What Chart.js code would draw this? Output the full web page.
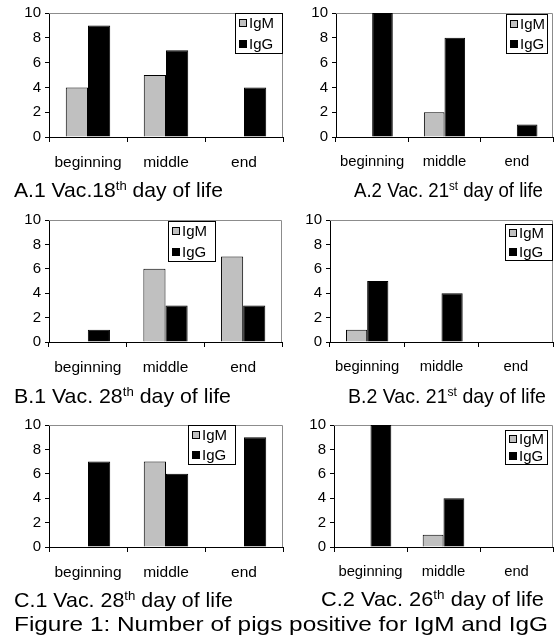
<!DOCTYPE html>
<html>
<head>
<meta charset="utf-8">
<script src="https://cdn.jsdelivr.net/npm/chart.js@4.4.1/dist/chart.umd.min.js"></script>
<style>
  html, body { margin: 0; padding: 0; background: #fff; overflow: hidden; }
  #page { position: relative; width: 554px; height: 639px; font-family: 'Liberation Sans', Arial, sans-serif; color: #000; }
  #page canvas { position: absolute; }
  .sub { position: absolute; font-size: 21px; line-height: 21px; white-space: nowrap; transform-origin: 0 0; }
  .sub sup { font-size: 13px; line-height: 0; vertical-align: 7px; }
</style>
</head>
<body>
<div id="page">
  <canvas id="a1"></canvas>
  <canvas id="a2"></canvas>
  <canvas id="b1"></canvas>
  <canvas id="b2"></canvas>
  <canvas id="c1"></canvas>
  <canvas id="c2"></canvas>
  <div class="sub" data-w="209" style="left:14px;top:179px">A.1 Vac.18<sup>th</sup> day of life</div>
  <div class="sub" data-w="189" style="left:354px;top:179px">A.2 Vac. 21<sup>st</sup> day of life</div>
  <div class="sub" data-w="217" style="left:14px;top:385px">B.1 Vac. 28<sup>th</sup> day of life</div>
  <div class="sub" data-w="198" style="left:348px;top:385px">B.2 Vac. 21<sup>st</sup> day of life</div>
  <div class="sub" data-w="219" style="left:14px;top:589px">C.1 Vac. 28<sup>th</sup> day of life</div>
  <div class="sub" data-w="223" style="left:321px;top:588px">C.2 Vac. 26<sup>th</sup> day of life</div>
  <div class="sub" data-w="534" style="left:14px;top:613px">Figure 1: Number of pigs positive for IgM and IgG</div>
</div>
<script>
// Sampling period within each group and the two antibody classes
const categories = ['beginning', 'middle', 'end'];
const seriesNames = ['IgM', 'IgG'];

// Number of positive pigs per group (IgM / IgG)
const a1IgM = [4, 5, 0];
const a1IgG = [9, 7, 4];
const a2IgM = [0, 2, 0];
const a2IgG = [10, 8, 1];
const b1IgM = [0, 6, 7];
const b1IgG = [1, 3, 3];
const b2IgM = [1, 0, 0];
const b2IgG = [5, 4, 0];
const c1IgM = [0, 7, 0];
const c1IgG = [7, 6, 9];
const c2IgM = [0, 1, 0];
const c2IgG = [10, 4, 0];

// Value axis
const yMin = 0;
const yMax = 10;
const yStep = 2;

const FONT = "'Liberation Sans', Arial, sans-serif";
const IGM_FILL = '#c0c0c0';
const IGG_FILL = '#000000';

// Panel captions are set to fixed widths by stretching them horizontally
document.querySelectorAll('.sub').forEach(el => {
  const natural = el.getBoundingClientRect().width;
  el.style.transform = 'scaleX(' + (Number(el.dataset.w) / natural) + ')';
});

// Thin grey frame along the top and right of the plot area
const plotFrame = {
  id: 'plotFrame',
  beforeDatasetsDraw(chart) {
    const { ctx, chartArea: a } = chart;
    const t = Math.round(a.top) + 0.5;
    const r = Math.round(a.right) - 0.5;
    ctx.save();
    ctx.strokeStyle = '#8c8c8c';
    ctx.lineWidth = 1;
    ctx.beginPath();
    ctx.moveTo(a.left, t);
    ctx.lineTo(r, t);
    ctx.lineTo(r, a.bottom);
    ctx.stroke();
    ctx.restore();
  }
};

// Boxed legend placed inside the plot area
const boxLegend = {
  id: 'boxLegend',
  afterDraw(chart, args, opts) {
    const { ctx } = chart;
    const { x, y, w, h } = opts;
    ctx.save();
    ctx.fillStyle = '#fff';
    ctx.fillRect(x, y, w, h);
    ctx.strokeStyle = '#000';
    ctx.lineWidth = 1;
    ctx.strokeRect(x + 0.5, y + 0.5, w - 1, h - 1);
    ctx.font = '15px ' + FONT;
    ctx.textBaseline = 'middle';
    ctx.textAlign = 'left';
    chart.data.datasets.forEach((ds, i) => {
      const cy = Math.round(y + h * (2 * i + 1) / 4);
      ctx.fillStyle = ds.backgroundColor;
      ctx.fillRect(x + 4, cy - 4, 8, 8);
      ctx.strokeStyle = '#000';
      ctx.strokeRect(x + 4.5, cy - 3.5, 7, 7);
      ctx.fillStyle = '#000';
      ctx.fillText(ds.label, x + 14, cy + 1);
    });
    ctx.restore();
  }
};

function buildChart(id, plot, igm, igg, legendRect, labelSize) {
  const padTop = 15, padRight = 6, yAxisW = 49, xAxisH = 45;
  const cv = document.getElementById(id);
  const w = yAxisW + (plot.r - plot.l) + padRight;
  const h = padTop + (plot.b - plot.t) + xAxisH;
  const left = plot.l - yAxisW, top = plot.t - padTop;
  cv.width = w; cv.height = h;
  cv.style.left = left + 'px'; cv.style.top = top + 'px';
  cv.style.width = w + 'px'; cv.style.height = h + 'px';

  return new Chart(cv, {
    type: 'bar',
    data: {
      labels: categories,
      datasets: [
        { label: seriesNames[0], data: igm, backgroundColor: IGM_FILL, borderColor: '#000', borderWidth: 1 },
        { label: seriesNames[1], data: igg, backgroundColor: IGG_FILL, borderColor: '#000', borderWidth: 1 }
      ]
    },
    options: {
      responsive: false,
      animation: false,
      devicePixelRatio: 1,
      layout: { padding: { top: padTop, right: padRight, left: 0, bottom: 0 } },
      datasets: { bar: { categoryPercentage: 0.57, barPercentage: 1 } },
      plugins: {
        legend: { display: false },
        tooltip: { enabled: false },
        boxLegend: {
          x: legendRect.x - left, y: legendRect.y - top,
          w: legendRect.w, h: legendRect.h
        }
      },
      scales: {
        x: {
          grid: { offset: true, drawOnChartArea: false, drawTicks: true, tickLength: 5, color: '#000' },
          border: { color: '#000' },
          ticks: { color: '#000', font: { size: labelSize, family: FONT }, padding: 11, maxRotation: 0, autoSkip: false },
          afterFit(s) { s.height = xAxisH; }
        },
        y: {
          min: yMin, max: yMax,
          ticks: { stepSize: yStep, color: '#000', font: { size: 15, family: FONT }, padding: 4 },
          grid: { drawOnChartArea: false, drawTicks: true, tickLength: 4, color: '#000' },
          border: { color: '#000' },
          afterFit(s) { s.width = yAxisW; }
        }
      }
    },
    plugins: [plotFrame, boxLegend]
  });
}

buildChart('a1', { l: 49, t: 13, r: 283, b: 137 }, a1IgM, a1IgG, { x: 235, y: 13, w: 48, h: 41 }, 15.5);
buildChart('a2', { l: 336, t: 13, r: 553, b: 137 }, a2IgM, a2IgG, { x: 506, y: 14, w: 42, h: 40 }, 14.8);
buildChart('b1', { l: 49, t: 220, r: 282, b: 342 }, b1IgM, b1IgG, { x: 168, y: 221, w: 48, h: 41 }, 15.5);
buildChart('b2', { l: 330, t: 220, r: 553, b: 342 }, b2IgM, b2IgG, { x: 505, y: 224, w: 48, h: 37 }, 14.8);
buildChart('c1', { l: 49, t: 425, r: 283, b: 547 }, c1IgM, c1IgG, { x: 188, y: 425, w: 48, h: 40 }, 15.5);
buildChart('c2', { l: 334, t: 425, r: 553, b: 547 }, c2IgM, c2IgG, { x: 505, y: 430, w: 43, h: 35 }, 14.8);
</script>
</body>
</html>
